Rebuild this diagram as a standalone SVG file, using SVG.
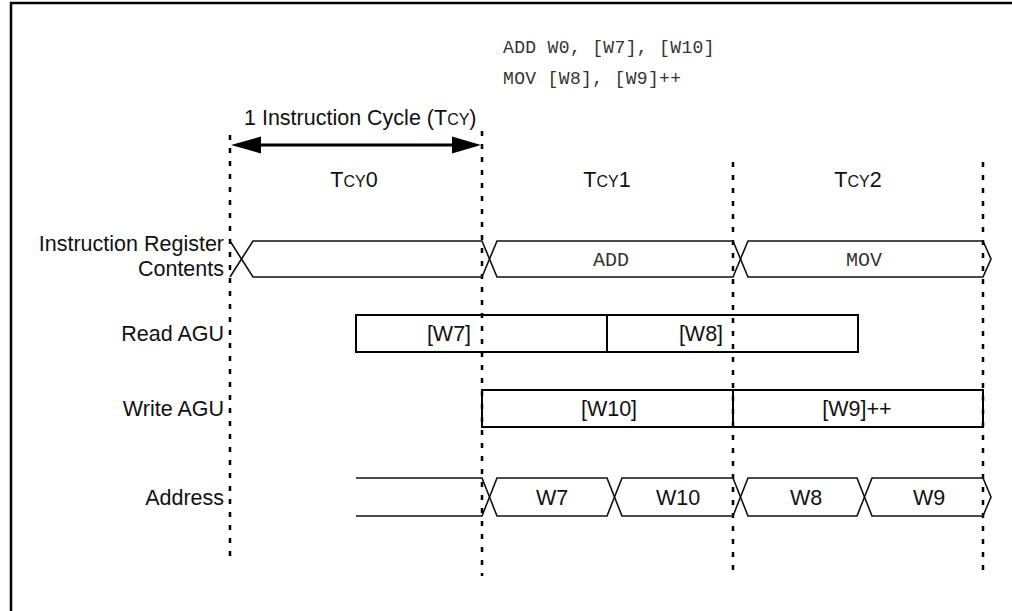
<svg xmlns="http://www.w3.org/2000/svg" width="1012" height="611" viewBox="0 0 1012 611">
<defs>
<style>
.lbl{font-family:"Liberation Sans",Arial,Helvetica,sans-serif;font-size:21.5px;fill:#111}
.mid{text-anchor:middle}
.end{text-anchor:end}
.sc{font-size:16px}
.mono{font-family:"Liberation Mono","Courier New",monospace;fill:#333}
.sig{fill:none;stroke:#111;stroke-width:1.6;stroke-linejoin:miter}
.box{fill:none;stroke:#000;stroke-width:2}
.grid{stroke:#000;stroke-width:2.5;stroke-dasharray:5 8;fill:none}
.frame{stroke:#000;stroke-width:2.5;fill:none}
</style>
</defs>
<rect width="1012" height="611" fill="#fff"/>
<path class="frame" d="M11,611 L11,3 L1012,3"/>

<g id="code">
<text class="mono" x="503" y="53" font-size="18" letter-spacing="0.35">ADD W0, [W7], [W10]</text>
<text class="mono" x="503" y="84" font-size="18" letter-spacing="0.35">MOV [W8], [W9]++</text>
</g>

<g id="connectors">
<line class="grid" x1="230" y1="135" x2="230" y2="563"/>
<line class="grid" x1="482" y1="131" x2="482" y2="576"/>
<line class="grid" x1="733" y1="162" x2="733" y2="578"/>
<line class="grid" x1="983" y1="162" x2="983" y2="578"/>
<g id="cycle-arrow">
<line x1="258" y1="145" x2="455" y2="145" stroke="#000" stroke-width="3"/>
<polygon points="231,145 261,136.5 261,153.5" fill="#000"/>
<polygon points="481,145 452,136.5 452,153.5" fill="#000"/>
</g>
</g>

<g id="cycle-label">
<text class="lbl" x="244" y="125">1 Instruction Cycle (T<tspan class="sc">CY</tspan>)</text>
</g>
<g id="tcy0"><text class="lbl mid" x="354" y="187">T<tspan class="sc">CY</tspan>0</text></g>
<g id="tcy1"><text class="lbl mid" x="607" y="187">T<tspan class="sc">CY</tspan>1</text></g>
<g id="tcy2"><text class="lbl mid" x="858" y="187">T<tspan class="sc">CY</tspan>2</text></g>

<g id="row-ir">
<text class="lbl end" x="224" y="251">Instruction Register</text>
<text class="lbl end" x="224" y="276">Contents</text>
<path class="sig" d="M230,241 L241.5,259 L230,277"/>
<path class="sig" d="M241.5,259 L253,241 L482,241 L489.5,259 L482,277 L253,277 Z"/>
<path class="sig" d="M489.5,259 L497,241 L733,241 L740.5,259 L733,277 L497,277 Z"/>
<path class="sig" d="M740.5,259 L748,241 L983,241 L991,259 L983,277 L748,277 Z"/>
<text class="mono mid" x="611" y="266" font-size="20">ADD</text>
<text class="mono mid" x="864" y="266" font-size="20">MOV</text>
</g>

<g id="row-read-agu">
<text class="lbl end" x="224" y="341">Read AGU</text>
<rect class="box" x="356" y="315" width="502" height="37"/>
<line class="box" x1="607" y1="315" x2="607" y2="352"/>
<text class="lbl mid" x="449" y="341">[W7]</text>
<text class="lbl mid" x="701" y="341">[W8]</text>
</g>

<g id="row-write-agu">
<text class="lbl end" x="224" y="416">Write AGU</text>
<rect class="box" x="482" y="390" width="501" height="37"/>
<line class="box" x1="733" y1="390" x2="733" y2="427"/>
<text class="lbl mid" x="609" y="416">[W10]</text>
<text class="lbl mid" x="857" y="416">[W9]++</text>
</g>

<g id="row-address">
<text class="lbl end" x="224" y="505">Address</text>
<path class="sig" d="M356,478 L482,478 L489.5,497 L482,516 L356,516"/>
<path class="sig" d="M489.5,497 L497,478 L607,478 L614.5,497 L607,516 L497,516 Z"/>
<path class="sig" d="M614.5,497 L622,478 L733,478 L740.5,497 L733,516 L622,516 Z"/>
<path class="sig" d="M740.5,497 L748,478 L857,478 L864.5,497 L857,516 L748,516 Z"/>
<path class="sig" d="M864.5,497 L872,478 L983,478 L991,497 L983,516 L872,516 Z"/>
<text class="lbl mid" x="552" y="505">W7</text>
<text class="lbl mid" x="678" y="505">W10</text>
<text class="lbl mid" x="806" y="505">W8</text>
<text class="lbl mid" x="929" y="505">W9</text>
</g>
</svg>
